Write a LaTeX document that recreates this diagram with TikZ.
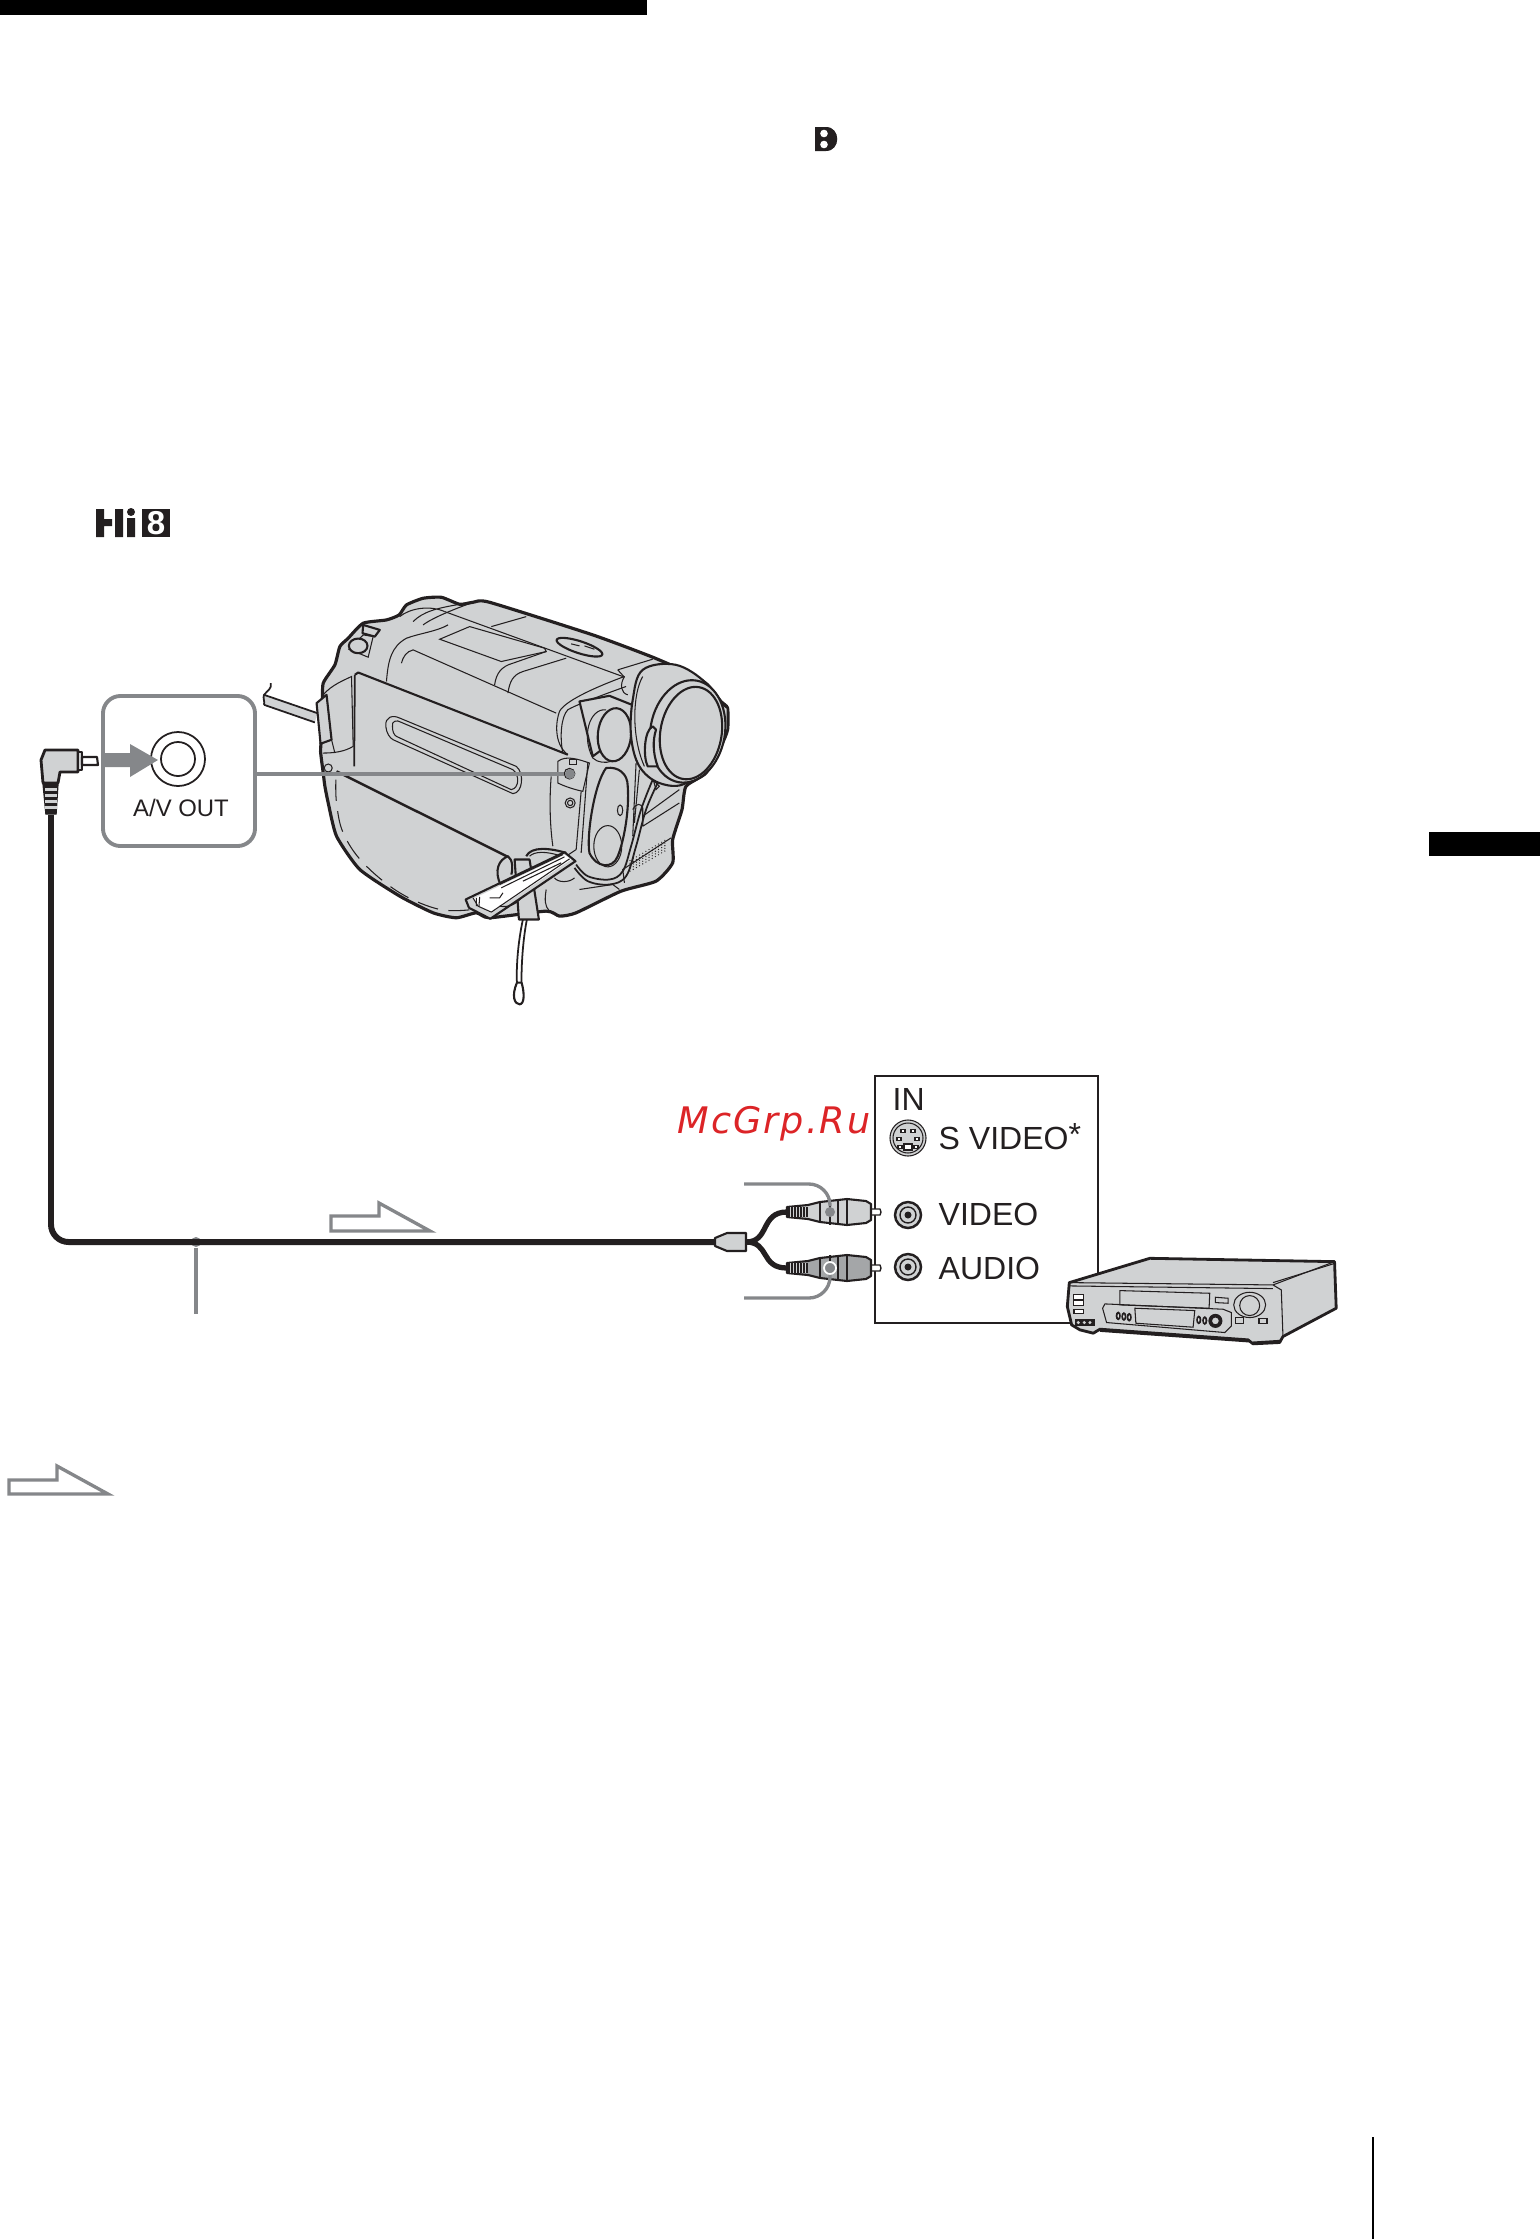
\documentclass[tikz,border=0pt]{standalone}
\usepackage{fontspec}
\setmainfont{Liberation Sans}
\newfontfamily\wmfont[LetterSpace=5.5]{DejaVu Sans}
\usetikzlibrary{calc,positioning}
\definecolor{camgray}{HTML}{D0D2D3}
\definecolor{plugdark}{HTML}{A4A6A8}
\definecolor{leadgray}{HTML}{85878A}
\definecolor{cablek}{HTML}{231F20}
\definecolor{wmred}{HTML}{DC2427}
\tikzset{
	body/.style = {draw=cablek, line width=.6pt, fill=camgray, line join=round},
	fine/.style = {draw=cablek, line width=.3pt},
	cable/.style = {draw=cablek, line width=1.7pt, rounded corners=5pt},
	leader/.style = {draw=leadgray, line width=.95pt},
	hollow/.style = {draw=leadgray, line width=.95pt, fill=white, miter limit=8},
	lbl/.style = {inner sep=0pt, anchor=west, font=\fontsize{9.1}{10}\selectfont, text=cablek},
	dotlead/.style = {circle, fill=leadgray, inner sep=0pt, minimum size=.1cm},
	portbox/.style = {draw=leadgray, line width=1.1pt, rounded corners=5pt, minimum width=1.52cm, minimum height=1.5cm},
}
\begin{document}
\begin{tikzpicture}[x=.01cm, y=-.01cm]
	\useasboundingbox (0,0) rectangle (1540,2239);
	\fill[black] (0,0) rectangle (647,15);
	\fill[black] (1429,832) rectangle (1540,856);
	\fill[black] (1372,2137) rectangle (1374,2239);

	\fill[cablek] (815,127) -- (826,127) .. controls (841,127) and (841,151) .. (826,151) -- (815,151) -- cycle;
	\fill[white] (824,133.5) circle (3.8) (824,144.5) circle (3.8);

	\fill[cablek] (96,509) rectangle (104,537) (104,519) rectangle (112,526) (115,509) rectangle (123,537) (127,518) rectangle (135,537);
	\fill[cablek] (131,512) circle (4);
	\fill[cablek] (142,509) rectangle (170,537);
	\node[inner sep=0pt, text=white, font=\fontsize{9.4}{10}\selectfont\bfseries] (hieight) at (156,523) {8};

	\begin{scope}[shift={(260,570)}, x=.00333cm, y=-.00333cm]
		\fill[camgray] (12,375) -- (172,430) -- (165,458) -- (12,405) -- cycle;
		\draw[fine, line width=.5pt] (32,340) .. controls (38,355) and (20,365) .. (12,375) .. controls (8,385) and (15,395) .. (12,405);
		\draw[fine, line width=.5pt] (12,375) -- (172,430) (12,405) -- (165,458);
		\draw[body, line width=.9pt] plot[smooth cycle, tension=.35] coordinates {(418,135) (440,105) (490,85) (545,82) (600,103) (640,97) (690,97) (1000,195) (1180,262) (1300,315) (1345,345) (1385,395) (1405,415) (1405,480) (1385,530) (1340,610) (1280,650) (1268,720) (1240,810) (1240,880) (1190,935) (1085,965) (950,1030) (900,1040) (860,1025) (690,1045) (650,1030) (590,1045) (520,1030) (420,980) (300,900) (230,800) (205,700) (195,650) (190,610) (182,545) (185,500) (188,400) (190,340) (225,285) (240,230) (265,205) (310,160) (380,150)};
		\filldraw[body] (170,400) -- (200,375) -- (215,510) -- (182,522) -- cycle;
		\draw[fine] (190,375) .. controls (215,345) and (255,330) .. (275,320) -- (280,530) .. controls (255,545) and (225,550) .. (190,550);
		\draw[fine] (215,510) -- (225,550);
		\draw[fine] (205,595) circle (12);
		\draw[body] (285,315) -- (295,308) -- (925,555);
		\draw[fine, line width=.5pt] (285,315) -- (283,590);
		\draw[cablek, line width=.7pt] (230,605) -- (745,862);
		\draw[fine] (378,470) .. controls (375,440) and (400,435) .. (420,445) -- (770,590) .. controls (795,610) and (790,670) .. (760,672) -- (400,510) .. controls (390,505) and (380,490) .. (378,470);
		\draw[fine] (398,470) .. controls (395,455) and (410,448) .. (425,458) -- (760,600) .. controls (780,615) and (780,655) .. (755,660) -- (410,500) .. controls (402,495) and (398,485) .. (398,470);
		\draw[fine, dashed, dash pattern=on 6pt off 3pt] plot[smooth, tension=.6] coordinates {(228,630) (230,700) (250,790) (310,880) (420,970) (540,1020) (640,1020)};
		\draw[fine] (380,335) .. controls (385,270) and (395,230) .. (440,205) .. controls (480,190) and (530,185) .. (565,165);
		\draw[fine] (425,280) .. controls (430,260) and (440,245) .. (460,240) -- (890,430);
		\draw[fine] (540,208) -- (630,170) -- (855,235) -- (860,245) -- (725,275) -- cycle;
		\draw[fine] (555,125) -- (1090,320);
		\draw[fine] (695,170) -- (800,140);
		\draw[fine] (705,345) .. controls (710,310) and (725,290) .. (760,280) -- (860,245);
		\draw[fine] (745,370) .. controls (750,335) and (760,315) .. (790,305) -- (920,265);
		\draw[body, rotate around={-18:(960,232)}] (960,232) ellipse (72 and 18);
		\draw[fine] (975,228) -- (1005,238) (935,222) -- (960,228);
		\draw[fine] (420,140) .. controls (450,115) and (510,105) .. (555,125) (460,155) .. controls (490,125) and (530,115) .. (600,103) (490,165) .. controls (510,150) and (550,130) .. (640,97);
		\draw[fine] (267,238) -- (325,262) -- (340,200) -- (310,195) -- cycle;
		\draw[body] (295,228) ellipse (28 and 22);
		\draw[body] (310,165) -- (360,180) -- (345,200) -- (308,190) -- cycle;
		\draw[fine] (1075,300) -- (1180,268) (1095,322) -- (1075,300);
		\draw[fine] (1095,320) .. controls (1080,345) and (1085,370) .. (1105,375);
		\draw[fine] (925,555) .. controls (880,520) and (890,450) .. (900,425) .. controls (915,395) and (1000,355) .. (1095,320);
		\draw[fine] (910,550) .. controls (900,500) and (905,440) .. (925,420) .. controls (950,405) and (1030,375) .. (1100,350);
		\filldraw[body] (960,395) -- (1050,378) -- (1125,408) -- (1120,470) -- (1000,560) -- cycle;
		\draw[body, rotate around={-5:(1065,495)}] (1065,495) ellipse (50 and 80);
		\draw[fine] (1040,420) .. controls (990,415) and (965,500) .. (1000,565) .. controls (1015,580) and (1040,580) .. (1055,575);
		\draw[fine] (895,575) .. controls (920,555) and (960,570) .. (990,580) -- (970,665) .. controls (945,660) and (915,650) .. (895,640) -- cycle;
		\draw[fine] (930,568) rectangle (950,585);
		\draw[fine] (875,620) .. controls (870,680) and (870,760) .. (880,830);
		\draw[fine] (965,665) -- (950,840) -- (905,870);
		\draw[fine] (985,580) -- (965,850);
		\filldraw[fine, fill=camgray] (930,612) circle (16);
		\filldraw[fine, fill=leadgray] (930,612) circle (8);
		\filldraw[fine, fill=camgray] (932,700) circle (15);
		\draw[fine] (932,700) circle (8);
		\filldraw[body] (1040,595) .. controls (1075,590) and (1105,610) .. (1105,650) .. controls (1110,720) and (1095,810) .. (1075,860) .. controls (1060,900) and (1010,895) .. (990,850) .. controls (980,800) and (1005,640) .. (1040,595) -- cycle;
		\draw[fine] (1045,830) ellipse (42 and 62);
		\draw[fine] (1082,722) ellipse (8 and 16);
		\draw[body] plot[smooth cycle, tension=.6] coordinates {(1150,300) (1250,285) (1340,340) (1375,410) (1350,550) (1280,640) (1200,640) (1140,590) (1115,500) (1120,390)};
		\draw[fine] (1150,320) .. controls (1120,370) and (1115,500) .. (1155,590);
		\draw[body] (1385,400) -- (1405,415) -- (1405,480) -- (1380,510);
		\draw[body, rotate around={-10:(1285,485)}] (1285,485) ellipse (112 and 155);
		\draw[body, rotate around={-10:(1295,490)}] (1295,490) ellipse (92 and 140);
		\filldraw[body] (1180,470) .. controls (1155,480) and (1150,560) .. (1165,590) -- (1195,590) .. controls (1180,550) and (1180,510) .. (1190,480) -- cycle;
		\draw[fine] (1130,580) -- (1120,800) (1140,600) -- (1125,760);
		\draw[fine] (1150,740) -- (1260,660) (1150,770) -- (1260,700) (1120,720) .. controls (1130,700) and (1145,700) .. (1150,715) -- (1150,770);
		\draw[fine] (1095,940) -- (1090,900) -- (1235,805);
		\foreach \i in {0,...,11} {
			\foreach \j in {0,...,4} {
				\fill[cablek] (1112+\i*9.5,905-\i*5.5-\j*8) circle (2);
			}
		}
		\draw[fine, line width=.5pt] plot[smooth, tension=.6] coordinates {(945,895) (985,935) (1050,945) (1100,920) (1130,830) (1160,720) (1195,640)};
		\draw[fine, line width=.5pt] plot[smooth, tension=.6] coordinates {(950,885) (985,920) (1050,930) (1090,905) (1115,830) (1145,720) (1180,630)};
		\draw[fine] (1182,632) -- (1200,650) -- (1190,660) -- cycle;
		\draw[fine] (885,925) .. controls (895,940) and (930,940) .. (945,925);
		\draw[fine] (860,960) .. controls (855,990) and (855,1010) .. (870,1025);
		\draw[fine] (1080,960) -- (1060,945) -- (960,960);
		\draw[body] (725,950) .. controls (700,900) and (720,870) .. (745,860) .. controls (760,870) and (760,900) .. (755,915);
		\filldraw[body] (765,870) -- (810,870) -- (838,1050) -- (778,1050) -- cycle;
		\draw[body, fill=none] (800,860) .. controls (815,830) and (870,835) .. (920,850);
		\draw[fine] (810,860) .. controls (825,845) and (860,845) .. (900,858);
		\filldraw[body] (618,990) -- (915,848) -- (948,875) -- (692,1048) -- (628,1015) -- cycle;
		\fill[white] (640,988) -- (915,856) -- (935,870) -- (695,1030) -- (655,1010) -- cycle;
		\draw[fine] (640,985) -- (655,1010) -- (695,1028) -- (930,868);
		\draw[fine] (720,945) -- (910,855) (725,955) -- (915,862) (650,985) -- (650,1010) (660,982) -- (658,1010);
		\draw[fine] (790,935) -- (905,880) (690,985) -- (720,985) -- (730,970);
		\draw[fine] (720,1010) .. controls (745,1015) and (770,1005) .. (785,985);
		\draw[fine, line width=.5pt] (790,1050) .. controls (775,1120) and (770,1190) .. (772,1240) (802,1050) .. controls (790,1110) and (785,1190) .. (786,1240);
		\filldraw[body, fill=white] (772,1240) .. controls (755,1280) and (765,1305) .. (780,1305) .. controls (795,1305) and (795,1270) .. (786,1240) -- cycle;
	\end{scope}

	\node[portbox] (avbox) at (179,771) {};
	\coordinate (camjack) at (570,774);
	\node[dotlead] (camdot) at (camjack) {};
	\draw[leader] (avbox.east |- camjack) -- (camdot);
	\node[circle, draw=cablek, line width=.5pt, minimum size=.54cm, inner sep=0pt] (avouter) at (178,759) {};
	\node[circle, draw=cablek, line width=.5pt, minimum size=.34cm, inner sep=0pt] (avinner) at (178,759) {};
	\fill[leadgray] (103,753) -- (130,753) -- (130,744) -- (158,760) -- (130,777) -- (130,767) -- (103,767) -- cycle;
	\node[inner sep=0pt, text=cablek, font=\fontsize{6.8}{8}\selectfont] (avlabel) at (181,808) {A/V OUT};

	\coordinate (lplug) at (51,815);
	\coordinate (yplug) at (715,1242);
	\node[dotlead] (cabledot) at (196,1242) {};
	\coordinate (cablelead) at (196,1314);
	\draw[cable] (lplug) |- (yplug);
	\draw[leader] (cabledot) -- (cablelead);
	\filldraw[body, line width=.8pt] (45,750) -- (78,750) -- (78,772) -- (60,772) -- (58,783) -- (43,783) -- (41,760) -- cycle;
	\filldraw[body] (78,752) rectangle (82,770);
	\filldraw[body, fill=white] (82,757) -- (97,757) -- (98,765) -- (82,765) -- cycle;
	\filldraw[cablek] (43,783) -- (58,783) -- (56,814) -- (46,814) -- cycle;
	\foreach \y in {788,794,800,806} {
		\fill[camgray] (45,\y) rectangle (57,\y+3);
	}

	\draw[hollow] (331,1216) -- (379,1216) -- (379,1203) -- (430,1231) -- (331,1231) -- cycle;
	\draw[hollow] (9,1480) -- (57,1480) -- (57,1466) -- (108,1494) -- (9,1494) -- cycle;

	\node[inner sep=0pt, anchor=base west, text=wmred, font=\wmfont\itshape\fontsize{10.4}{12}\selectfont] (watermark) at (677,1133) {McGrp.Ru};

	\node[draw=cablek, line width=.6pt, minimum width=2.23cm, minimum height=2.47cm, inner sep=0pt] (inbox) at (986.5,1199.5) {};
	\node[lbl] (inlabel) at (892,1099) {IN};
	\node[lbl] (svlabel) at (938,1137) {S VIDEO\raisebox{.25ex}{*}};
	\node[lbl] (vlabel) at (938,1214) {VIDEO};
	\node[lbl] (alabel) at (938,1268) {AUDIO};

	\node[circle, draw=cablek, fill=camgray, line width=.3pt, minimum size=.36cm, inner sep=0pt] (svport) at (908,1138) {};
	\draw[fine] (svport) circle (15);
	\foreach \px/\py in {903/1131, 913/1131, 899/1139, 917/1139, 900/1147, 916/1147} {
		\filldraw[fine, fill=white] (\px-2,\py-1.5) rectangle (\px+2,\py+1.5);
	}
	\filldraw[fine, fill=white] (904,1144) rectangle (912,1150);

	\foreach \n/\y in {vport/1215, aport/1267} {
		\node[circle, draw=cablek, fill=camgray, line width=.7pt, minimum size=.26cm, inner sep=0pt] (\n) at (908,\y) {};
		\draw[cablek, line width=.4pt] (\n) circle (8);
		\fill[cablek] (\n) circle (3.5);
	}

	\foreach \y/\c/\n in {1212/camgray/vplug, 1268/plugdark/aplug} {
		\coordinate (\n) at (787,\y);
		\draw[cablek, line width=1.5pt] (746,1242) .. controls (770,1242) and (760,\y) .. (\n);
		\begin{scope}[shift={(0,\y)}]
			\filldraw[body, fill=white, line width=.4pt] (869,-3) -- (880,-3) -- (881,0) -- (880,3) -- (869,3) -- cycle;
			\filldraw[body, fill=\c] (787,-5) -- (808,-7) -- (820,-10) -- (847,-13) -- (866,-11) -- (871,-8) -- (871,8) -- (866,11) -- (847,13) -- (820,10) -- (808,7) -- (787,5) -- cycle;
			\fill[cablek] (787,-5) rectangle (808,5);
			\foreach \x in {790,793,796,799,802,805} {
				\fill[camgray] (\x,-5) rectangle (\x+1,5);
			}
			\draw[fine] (820,-10) -- (820,10) (830,-13) -- (830,13) (838,-13) -- (838,13) (847,-13) -- (847,13);
		\end{scope}
	}
	\filldraw[body] (715,1238) -- (727,1233) -- (746,1233) -- (746,1251) -- (727,1251) -- (715,1246) -- cycle;

	\coordinate (vbrk) at (744,1184);
	\coordinate (abrk) at (744,1298);
	\node[dotlead] (vdot) at (830,1212) {};
	\node[dotlead, draw=white, line width=.5pt, minimum size=.12cm] (adot) at (830,1268) {};
	\draw[leader, rounded corners=6pt] (vbrk) -| (vdot);
	\draw[leader, rounded corners=6pt] (abrk) -| (adot);

	\begin{scope}[shift={(1050,1240)}, x=.00333cm, y=-.00333cm]
		\filldraw[body, line width=.8pt] (58,128) -- (300,55) -- (855,65) -- (860,205) -- (700,290) -- (690,308) -- (610,312) -- (595,300) -- (150,268) -- (130,280) -- (90,270) -- (65,255) -- (52,200) -- cycle;
		\draw[fine] (58,128) -- (670,135) -- (855,65) (60,138) -- (670,146) (670,135) -- (695,150) -- (700,290);
		\draw[fine] (670,128) -- (850,72);
		\draw[fine] (210,152) -- (480,160) -- (478,205) -- (210,195) -- cycle;
		\draw[fine] (497,172) -- (535,175) -- (535,190) -- (497,188) -- cycle;
		\draw[fine] (600,195) ellipse (48 and 38);
		\filldraw[fine, fill=camgray] (600,197) circle (30);
		\draw[fine] (558,232) rectangle (582,250) (628,235) rectangle (652,252);
		\draw[fine] (158,205) -- (165,192) -- (520,208) -- (545,218) -- (545,258) -- (525,278) -- (170,248) -- cycle;
		\draw[fine] (255,205) -- (435,212) -- (430,262) -- (258,250) -- cycle;
		\foreach \x/\y in {205/228, 222/230, 238/232, 447/240, 465/242} {
			\filldraw[fine, fill=white, line width=.5pt] (\x,\y) ellipse (5 and 10);
		}
		\filldraw[cablek] (497,243) circle (19);
		\filldraw[fine, fill=camgray] (497,243) circle (12);
		\filldraw[fine, fill=white] (70,165) rectangle (102,180) (70,182) rectangle (102,196);
		\filldraw[fine, fill=white] (72,210) rectangle (100,220);
		\fill[cablek] (75,238) rectangle (135,258);
		\foreach \x in {85,103,120} {
			\fill[camgray] (\x,248) circle (5);
		}
		\fill[cablek] (150,268) -- (595,300) -- (600,308) -- (150,276) -- cycle;
		\fill[cablek] (610,305) -- (690,300) -- (700,290) -- (690,310) -- (610,314) -- cycle;
	\end{scope}
\end{tikzpicture}
\end{document}
